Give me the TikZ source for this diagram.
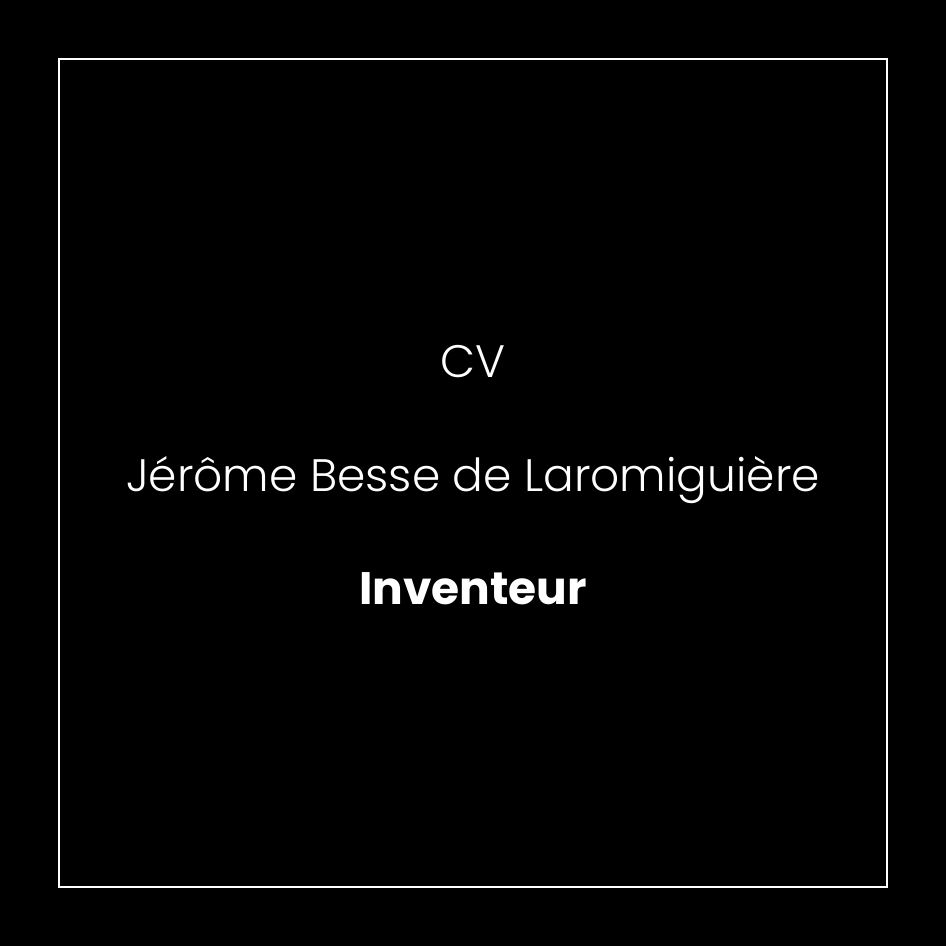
\documentclass[tikz,border=0pt]{standalone}
\usepackage{fontspec}
\setmainfont{Poppins}[UprightFont=* Light, BoldFont=* Bold]
\usetikzlibrary{positioning}

\begin{document}
\begin{tikzpicture}[x=1pt, y=1pt, node distance=113.5pt]
\tikzstyle{page} = [ fill=black ]
\tikzstyle{frame} = [ draw=white, line width=1.5pt ]
\tikzstyle{line} = [ text=white, font=\fontsize{45.5}{54}\selectfont, text height=35pt, text depth=12pt, inner sep=0pt ]
% background and frame
\path [page] (0,0) rectangle (946,946) ;
\draw [frame] (59,59) rectangle (887,887) ;
% place nodes
\node [line] (title) at (473,579.5) {CV} ;
\node [line, below of=title] (name) {Jérôme Besse de Laromiguière} ;
\node [line, below of=name, font=\fontsize{45.5}{54}\selectfont\bfseries] (role) {Inventeur} ;
\end{tikzpicture}
\end{document}
